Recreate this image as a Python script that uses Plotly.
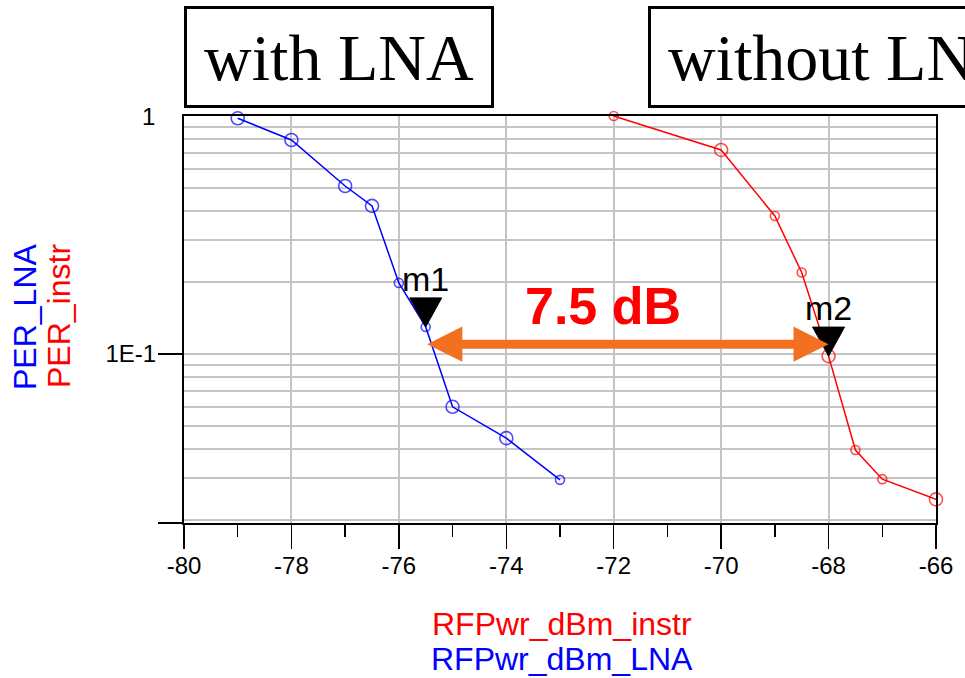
import math
import plotly.graph_objects as go

# ---------------- data ----------------
rfpwr_lna = [-79, -78, -77, -76.5, -76, -75.5, -75, -74, -73]
per_lna = [0.978, 0.793, 0.508, 0.419, 0.199, 0.130, 0.0600, 0.0443, 0.0296]

rfpwr_instr = [-72, -70, -69, -68.5, -68, -67.5, -67, -66]
per_instr = [1.0, 0.720, 0.380, 0.220, 0.098, 0.0395, 0.0298, 0.0245]

x_tick_vals = [-80, -78, -76, -74, -72, -70, -68, -66]
x_tick_text = ["-80", "-78", "-76", "-74", "-72", "-70", "-68", "-66"]
y_tick_vals = [0.1]
y_tick_text = ["1E-1"]
y_top_label = "1"
y_minor_grid = [0.02, 0.03, 0.04, 0.05, 0.06, 0.07, 0.08, 0.09,
                0.2, 0.3, 0.4, 0.5, 0.6, 0.7, 0.8, 0.9]

marker_names = ["m1", "m2"]
m1_index = 5   # point of PER_LNA
m2_index = 4   # point of PER_instr
gap_text = "7.5 dB"
gap_level = 0.11
box_texts = ["with LNA", "without LNA"]

# ---------------- styles ----------------
BLUE = "#0000FF"
RED = "#FF0000"
ORANGE = "#F37021"
GRID = "#C4C4C4"
SANS = "Liberation Sans, Arial, Helvetica, sans-serif"
SERIF = "Liberation Serif, Times New Roman, serif"
lna_sizes = [13, 13, 13, 13, 9, 9, 13, 13, 9]
instr_sizes = [9, 13, 9, 9, 13, 9, 9, 13]

y_log_min = -1.71
y_bottom = 10 ** y_log_min

fig = go.Figure()
fig.add_trace(go.Scatter(
    x=rfpwr_lna, y=per_lna, mode="lines+markers", name="PER_LNA",
    line=dict(color=BLUE, width=1.5),
    marker=dict(symbol="circle-open", size=lna_sizes, color=BLUE,
                line=dict(color=BLUE, width=1.6)),
    cliponaxis=False))
fig.add_trace(go.Scatter(
    x=rfpwr_instr, y=per_instr, mode="lines+markers", name="PER_instr",
    line=dict(color=RED, width=1.5),
    marker=dict(symbol="circle-open", size=instr_sizes, color=RED,
                line=dict(color=RED, width=1.6)),
    cliponaxis=False))

fig.update_xaxes(
    range=[-80, -66], tickvals=x_tick_vals, ticktext=x_tick_text,
    ticks="outside", ticklen=24, tickwidth=1.5, tickcolor="black",
    showgrid=True, gridcolor=GRID, gridwidth=2,
    showline=True, linecolor="black", linewidth=2, mirror=True,
    zeroline=False, tickfont=dict(family=SANS, size=24, color="black"),
    ticklabelstandoff=-4,
    minor=dict(dtick=1, ticks="outside", ticklen=12, tickwidth=1.5,
               tickcolor="black", showgrid=False),
)
fig.update_yaxes(
    type="log", range=[y_log_min, 0],
    tickvals=y_tick_vals + [y_bottom], ticktext=y_tick_text + [""],
    ticks="outside", ticklen=24, tickwidth=1.5, tickcolor="black",
    showgrid=True, gridcolor=GRID, gridwidth=2,
    showline=True, linecolor="black", linewidth=2, mirror=True,
    zeroline=False, tickfont=dict(family=SANS, size=24, color="black"),
    ticklabelstandoff=-3,
    minor=dict(tickvals=y_minor_grid, ticks="", showgrid=True,
               gridcolor=GRID, gridwidth=2),
)

annotations = []
shapes = []

# top "1" label
annotations.append(dict(text=y_top_label, xref="paper", yref="y", x=0, y=0,
                        xanchor="right", yanchor="middle", xshift=-27,
                        showarrow=False,
                        font=dict(family=SANS, size=24, color="black")))

# marker triangles and labels
for name, xs, ys, idx in [(marker_names[0], rfpwr_lna, per_lna, m1_index),
                          (marker_names[1], rfpwr_instr, per_instr, m2_index)]:
    shapes.append(dict(type="path", xref="x", yref="y",
                       xsizemode="pixel", ysizemode="pixel",
                       xanchor=xs[idx], yanchor=ys[idx],
                       path="M -16,29 L 16,29 L 0,0 Z",
                       fillcolor="black", line=dict(color="black", width=1)))
    annotations.append(dict(text=name, xref="x", yref="y", x=xs[idx],
                            y=math.log10(ys[idx]), xanchor="center",
                            yanchor="bottom", yshift=27, showarrow=False,
                            font=dict(family=SANS, size=34, color="black")))

# double arrow between markers
ylog = math.log10(gap_level)
annotations.append(dict(text="", xref="x", yref="y", axref="x", ayref="y",
                        x=rfpwr_instr[m2_index], y=ylog,
                        ax=rfpwr_lna[m1_index], ay=ylog,
                        showarrow=True, arrowside="end+start",
                        arrowhead=2, startarrowhead=2,
                        arrowsize=0.78, startarrowsize=0.78,
                        arrowwidth=9, arrowcolor=ORANGE,
                        standoff=0, startstandoff=0))
annotations.append(dict(text="<b>" + gap_text + "</b>", xref="paper", yref="paper",
                        x=0.557, y=0.533, xanchor="center", yanchor="middle",
                        showarrow=False,
                        font=dict(family=SANS, size=52, color=RED)))

# boxed labels
annotations.append(dict(text=box_texts[0], xref="paper", yref="paper",
                        x=0.2063, y=1.145, xanchor="center", yanchor="middle",
                        showarrow=False, width=304, height=96,
                        bordercolor="black", borderwidth=3, borderpad=0,
                        bgcolor="white",
                        font=dict(family=SERIF, size=66, color="black")))
annotations.append(dict(text=box_texts[1], xref="paper", yref="paper",
                        x=0.6164, y=1.145, xanchor="left", yanchor="middle",
                        showarrow=False, width=388, height=96,
                        bordercolor="black", borderwidth=3, borderpad=0,
                        bgcolor="white",
                        font=dict(family=SERIF, size=66, color="black")))

# axis titles
annotations.append(dict(text="PER_LNA", xref="paper", yref="paper", x=0, y=0.5,
                        xshift=-159.5, yshift=3, textangle=-90,
                        xanchor="center", yanchor="middle", showarrow=False,
                        font=dict(family=SANS, size=32, color=BLUE)))
annotations.append(dict(text="PER_instr", xref="paper", yref="paper", x=0, y=0.5,
                        xshift=-125.5, yshift=3, textangle=-90,
                        xanchor="center", yanchor="middle", showarrow=False,
                        font=dict(family=SANS, size=32, color=RED)))
annotations.append(dict(text="RFPwr_dBm_instr", xref="paper", yref="paper",
                        x=0.5, y=-0.247, xshift=2, xanchor="center",
                        yanchor="middle", showarrow=False,
                        font=dict(family=SANS, size=32, color=RED)))
annotations.append(dict(text="RFPwr_dBm_LNA", xref="paper", yref="paper",
                        x=0.5, y=-0.333, xshift=2, xanchor="center",
                        yanchor="middle", showarrow=False,
                        font=dict(family=SANS, size=32, color=BLUE)))

fig.update_layout(
    width=965, height=678,
    margin=dict(l=184, r=25, t=116, b=155),
    plot_bgcolor="white", paper_bgcolor="white",
    showlegend=False, hovermode=False,
    font=dict(family=SANS, color="black"),
    annotations=annotations, shapes=shapes,
)

fig.write_html("out.html",
               config={"displayModeBar": False, "staticPlot": True},
               post_script="document.body.style.margin='0';"
                           "document.body.style.overflow='hidden';")
